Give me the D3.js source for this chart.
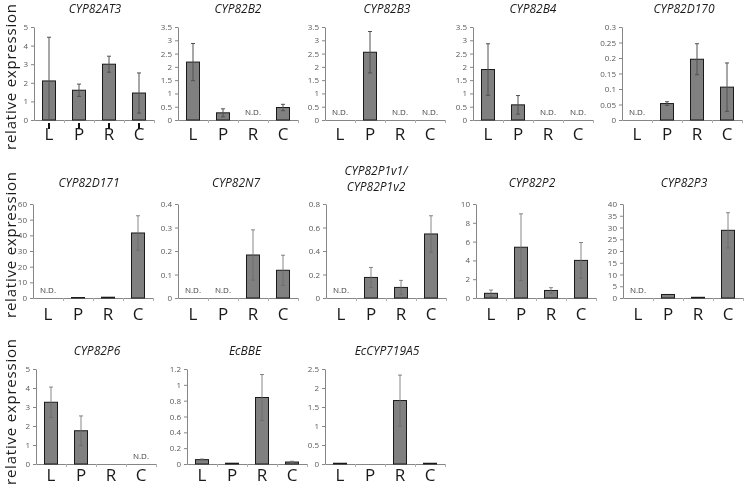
<!DOCTYPE html>
<html><head><meta charset="utf-8">
<script src="https://cdn.jsdelivr.net/npm/d3@7"></script>
<style>body{margin:0;background:#fff}svg{display:block;will-change:transform}</style>
</head><body>
<script>
// ---------- data ----------
const categories = ["L", "P", "R", "C"];
const genes = ["CYP82AT3", "CYP82B2", "CYP82B3", "CYP82B4", "CYP82D170",
  "CYP82D171", "CYP82N7", "CYP82P1v1/|CYP82P1v2", "CYP82P2", "CYP82P3",
  "CYP82P6", "EcBBE", "EcCYP719A5"];
// mean relative expression (null = N.D.)
const means = [
  [2.1, 1.6, 3.0, 1.45],
  [2.18, 0.27, null, 0.47],
  [null, 2.55, null, null],
  [1.9, 0.57, null, null],
  [null, 0.053, 0.196, 0.106],
  [null, 0.3, 0.5, 41.5],
  [null, null, 0.183, 0.118],
  [null, 0.175, 0.09, 0.545],
  [0.5, 5.4, 0.8, 4.0],
  [null, 1.5, 0.3, 28.8],
  [3.25, 1.75, 0, null],
  [0.055, 0.01, 0.84, 0.025],
  [0.02, 0, 1.67, 0.02]
];
// error (± SD)
const errors = [
  [2.35, 0.33, 0.43, 1.08],
  [0.7, 0.15, 0, 0.12],
  [0, 0.78, 0, 0],
  [0.97, 0.35, 0, 0],
  [0, 0.006, 0.05, 0.078],
  [0, 0, 0, 11],
  [0, 0, 0.107, 0.064],
  [0, 0.085, 0.06, 0.155],
  [0.35, 3.55, 0.3, 1.9],
  [0, 0, 0, 7.5],
  [0.8, 0.78, 0, 0],
  [0.008, 0, 0.29, 0.01],
  [0, 0, 0.67, 0]
];
const yMax = [5, 3.5, 3.5, 3.5, 0.3, 60, 0.4, 0.8, 10, 40, 5, 1.2, 2.5];
const yStep = [1, 0.5, 0.5, 0.5, 0.05, 10, 0.1, 0.2, 2, 5, 1, 0.2, 0.5];
const yLabel = "relative expression";
const ndLabel = "N.D.";

// ---------- layout ----------
const W = 747, H = 486;
const panelRow = [0,0,0,0,0, 1,1,1,1,1, 2,2,2];
const panelX = [34,178,325,473,622, 33,178,326,476,623, 36,187,325];
const titleDx = [1,0,2,0,2, -4,-2,-10,-4,1, 1,-2,2];
const plotW = 120;
const rowZero = [120, 298, 464];
const rowTop = [27, 204, 369];
const rowTitle = [13, 187, 355];
const rowLabelY = [77, 245, 412];
const rowCatDy = [20, 22, 17];
const barW = 13;

const svg = d3.select("body").append("svg").attr("width", W).attr("height", H)
  .style("font-family", "'Open Sans', sans-serif");

// y labels
rowLabelY.forEach(cy => {
  svg.append("text")
    .attr("transform", `translate(16,${cy}) rotate(-90)`)
    .attr("text-anchor", "middle")
    .attr("font-size", 15)
    .attr("textLength", 146)
    .attr("lengthAdjust", "spacing")
    .attr("fill", "#1a1a1a")
    .text(yLabel);
});

genes.forEach((gene, i) => {
  const r = panelRow[i];
  const x0 = panelX[i];
  const zero = rowZero[r];
  const g = svg.append("g");
  const y = d3.scaleLinear().domain([0, yMax[i]]).range([zero, rowTop[r]]);
  const x = d3.scaleBand().domain(categories).range([x0, x0 + plotW]);
  const ticks = d3.range(0, Math.round(yMax[i] / yStep[i]) + 1).map(k => +(k * yStep[i]).toFixed(4));

  // y axis
  const ya = g.append("g").attr("transform", `translate(${x0},0)`)
    .call(d3.axisLeft(y).tickValues(ticks).tickSize(3).tickSizeOuter(0).tickPadding(3)
      .tickFormat(v => String(v)));
  ya.select(".domain").attr("stroke", "#868686");
  ya.selectAll(".tick line").attr("stroke", "#868686");
  ya.selectAll(".tick text").attr("fill", "#595959").attr("font-size", 8)
    .attr("font-family", "'Open Sans', sans-serif");

  // x axis line with boundary ticks
  const xb = d3.scaleLinear().domain([0, 4]).range([x0, x0 + plotW]);
  const xa = g.append("g").attr("transform", `translate(0,${zero})`)
    .call(d3.axisBottom(xb).tickValues([1, 2, 3, 4]).tickSize(3).tickSizeOuter(0).tickFormat(""));
  xa.select(".domain").attr("stroke", "#868686");
  xa.selectAll(".tick line").attr("stroke", "#b0b0b0");

  if (i === 0) {
    g.selectAll(".mk").data(categories).join("rect")
      .attr("x", d => x(d) + x.bandwidth() / 2 - 1).attr("y", zero + 3)
      .attr("width", 2).attr("height", 6).attr("fill", "#111");
  }

  const rows = categories.map((c, k) => ({ c, m: means[i][k], e: errors[i][k] }));

  // bars
  g.selectAll(".bar").data(rows.filter(d => d.m !== null && d.m > 0)).join("rect")
    .attr("x", d => x(d.c) + x.bandwidth() / 2 - barW / 2)
    .attr("y", d => y(d.m))
    .attr("width", barW)
    .attr("height", d => zero - y(d.m))
    .attr("fill", "#808080").attr("stroke", "#1a1a1a").attr("stroke-width", 1);

  // error bars
  const eb = rows.filter(d => d.m !== null && d.e > 0);
  const ec = r === 0 ? "#505050" : "#6a6a6a";
  const ew = r === 0 ? 1 : 0.8;
  eb.forEach(d => {
    const cx = x(d.c) + x.bandwidth() / 2;
    const yt = y(d.m + d.e), ybm = y(Math.max(0, d.m - d.e));
    g.append("line").attr("x1", cx).attr("x2", cx).attr("y1", yt).attr("y2", ybm)
      .attr("stroke", ec).attr("stroke-width", ew);
    g.append("line").attr("x1", cx - 2).attr("x2", cx + 2).attr("y1", yt).attr("y2", yt)
      .attr("stroke", ec).attr("stroke-width", ew);
    if (d.m - d.e > 0)
      g.append("line").attr("x1", cx - 2).attr("x2", cx + 2).attr("y1", ybm).attr("y2", ybm)
        .attr("stroke", ec).attr("stroke-width", ew);
  });

  // N.D.
  g.selectAll(".nd").data(rows.filter(d => d.m === null)).join("text")
    .attr("x", d => x(d.c) + x.bandwidth() / 2)
    .attr("y", zero - 5)
    .attr("text-anchor", "middle").attr("font-size", 8).attr("fill", "#404040")
    .text(ndLabel);

  // category labels
  g.selectAll(".cat").data(categories).join("text")
    .attr("x", d => x(d) + x.bandwidth() / 2)
    .attr("y", zero + rowCatDy[r])
    .attr("text-anchor", "middle").attr("font-size", 17).attr("fill", "#1a1a1a")
    .text(d => d);

  // title
  const lines = gene.split("|");
  const tx = x0 + plotW / 2 + titleDx[i];
  lines.forEach((ln, k) => {
    const ty = lines.length > 1 ? rowTitle[r] - 12 + k * 16 : rowTitle[r];
    g.append("text").attr("x", tx).attr("y", ty)
      .attr("text-anchor", "middle").attr("font-size", 12).attr("font-style", "italic")
      .attr("fill", "#1a1a1a").text(ln);
  });
});
</script>
</body></html>
